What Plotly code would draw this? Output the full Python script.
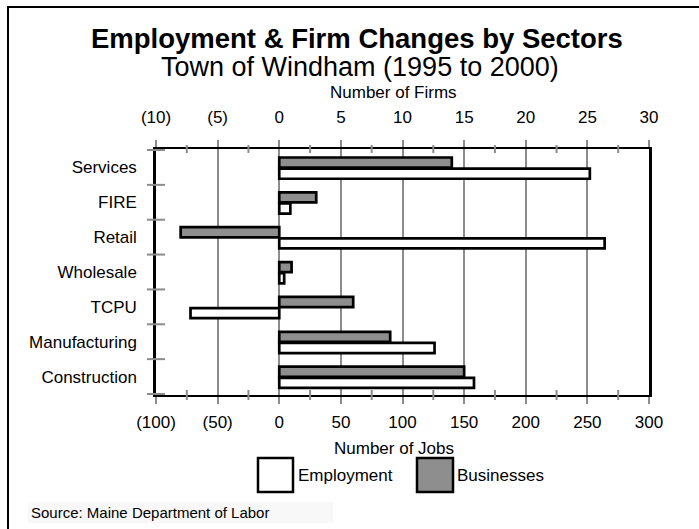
import plotly.graph_objects as go

# ---------------- data ----------------
sectors = ["Services", "FIRE", "Retail", "Wholesale", "TCPU", "Manufacturing", "Construction"]
employment = [252, 9, 264, 4, -72, 126, 158]      # change in number of jobs
businesses = [14, 3, -8, 1, 6, 9, 15]             # change in number of firms

job_ticks = [-100, -50, 0, 50, 100, 150, 200, 250, 300]
job_ticktext = ["(100)", "(50)", "0", "50", "100", "150", "200", "250", "300"]
job_minor = [-75, -25, 25, 75, 125, 175, 225, 275]
firm_ticks = [-10, -5, 0, 5, 10, 15, 20, 25, 30]
firm_ticktext = ["(10)", "(5)", "0", "5", "10", "15", "20", "25", "30"]
firm_minor = [-7.5, -2.5, 2.5, 7.5, 12.5, 17.5, 22.5, 27.5]

# ---------------- layout geometry (pixels) ----------------
W, H = 699, 529
L, R, T, B = 156, 649, 149, 395
FONT = "Liberation Sans, Arial, Helvetica, sans-serif"
GRID = "#8c8c8c"
BAR_GRAY = "#8e8e8e"


def px_x(p):
    return (p - L) / (R - L)


def px_y(p):
    return (B - p) / (B - T)


fig = go.Figure()

fig.add_trace(go.Bar(
    y=sectors, x=employment, orientation="h", name="Employment",
    xaxis="x", yaxis="y",
    width=0.29, offset=0.035,
    marker=dict(color="white", line=dict(color="black", width=2.7)),
    showlegend=False,
))
fig.add_trace(go.Bar(
    y=sectors, x=businesses, orientation="h", name="Businesses",
    xaxis="x2", yaxis="y",
    width=0.29, offset=-0.285,
    marker=dict(color=BAR_GRAY, line=dict(color="black", width=2.7)),
    showlegend=False,
))

shapes = []
# minor tick crosses on bottom axis
for v in job_minor:
    shapes.append(dict(type="line", xref="x", yref="paper", x0=v, x1=v,
                       ysizemode="pixel", yanchor=0, y0=-5, y1=5,
                       line=dict(color=GRID, width=2)))
# minor tick crosses on top axis
for v in firm_minor:
    shapes.append(dict(type="line", xref="x2", yref="paper", x0=v, x1=v,
                       ysizemode="pixel", yanchor=1, y0=-4, y1=4,
                       line=dict(color=GRID, width=2)))
# category boundary ticks on left axis
for i in range(len(sectors) + 1):
    b = i - 0.5
    shapes.append(dict(type="line", xref="paper", yref="y", y0=b, y1=b,
                       xsizemode="pixel", xanchor=0, x0=-9, x1=9,
                       line=dict(color=GRID, width=2)))

# legend boxes
shapes.append(dict(type="rect", xref="paper", yref="paper",
                   x0=px_x(258), x1=px_x(293), y0=px_y(492), y1=px_y(458),
                   fillcolor="white", line=dict(color="black", width=2.5)))
shapes.append(dict(type="rect", xref="paper", yref="paper",
                   x0=px_x(417), x1=px_x(453), y0=px_y(492), y1=px_y(458),
                   fillcolor=BAR_GRAY, line=dict(color="black", width=2.5)))
# source background
shapes.append(dict(type="rect", xref="paper", yref="paper", layer="below",
                   x0=px_x(28), x1=px_x(333), y0=px_y(523), y1=px_y(502),
                   fillcolor="#f8f8f8", line=dict(width=0)))
# outer frame
shapes.append(dict(type="rect", xref="paper", yref="paper",
                   x0=px_x(8), x1=px_x(730), y0=px_y(580), y1=px_y(7),
                   fillcolor="rgba(0,0,0,0)", line=dict(color="black", width=2)))

annotations = [
    dict(text="<b>Employment & Firm Changes by Sectors</b>", x=px_x(357), y=px_y(38),
         xref="paper", yref="paper", showarrow=False, xanchor="center", yanchor="middle",
         font=dict(size=27.5, color="black", family=FONT)),
    dict(text="Town of Windham (1995 to 2000)", x=px_x(360), y=px_y(67),
         xref="paper", yref="paper", showarrow=False, xanchor="center", yanchor="middle",
         font=dict(size=27, color="black", family=FONT)),
    dict(text="Number of Firms", x=px_x(393.5), y=px_y(92.5),
         xref="paper", yref="paper", showarrow=False, xanchor="center", yanchor="middle",
         font=dict(size=17, color="black", family=FONT)),
    dict(text="Number of Jobs", x=px_x(393.5), y=px_y(448),
         xref="paper", yref="paper", showarrow=False, xanchor="center", yanchor="middle",
         font=dict(size=17, color="black", family=FONT)),
    dict(text="Employment", x=px_x(296), y=px_y(475),
         xref="paper", yref="paper", showarrow=False, xanchor="left", yanchor="middle",
         font=dict(size=17, color="black", family=FONT)),
    dict(text="Businesses", x=px_x(455), y=px_y(475),
         xref="paper", yref="paper", showarrow=False, xanchor="left", yanchor="middle",
         font=dict(size=17, color="black", family=FONT)),
    dict(text="Source: Maine Department of Labor", x=px_x(29), y=px_y(512.5),
         xref="paper", yref="paper", showarrow=False, xanchor="left", yanchor="middle",
         font=dict(size=15, color="black", family=FONT)),
]

fig.update_layout(
    width=W, height=H,
    margin=dict(l=L, r=W - R, t=T, b=H - B, pad=0),
    paper_bgcolor="white", plot_bgcolor="white",
    font=dict(family=FONT, size=17, color="black"),
    barmode="overlay",
    showlegend=False,
    xaxis=dict(
        range=[-100, 300], tickvals=job_ticks, ticktext=job_ticktext,
        showgrid=True, gridcolor=GRID, gridwidth=2, zeroline=False,
        ticks="outside", ticklen=7, tickwidth=2, tickcolor=GRID,
        showline=True, linecolor="black", linewidth=2,
        ticklabelstandoff=4, tickfont=dict(size=17),
        fixedrange=True,
    ),
    xaxis2=dict(
        range=[-10, 30], tickvals=firm_ticks, ticktext=firm_ticktext,
        overlaying="x", side="top", anchor="y",
        showgrid=False, zeroline=False,
        ticks="outside", ticklen=7, tickwidth=2, tickcolor=GRID,
        showline=True, linecolor="black", linewidth=2,
        ticklabelstandoff=10, tickfont=dict(size=17),
        fixedrange=True,
    ),
    yaxis=dict(
        type="category", categoryorder="array", categoryarray=sectors,
        autorange="reversed",
        showgrid=False, zeroline=False, ticks="",
        showline=True, mirror=True, linecolor="black", linewidth=2.5,
        ticklabelstandoff=13, tickfont=dict(size=17),
        fixedrange=True,
    ),
    shapes=shapes,
    annotations=annotations,
)

fig.write_html("out.html")
